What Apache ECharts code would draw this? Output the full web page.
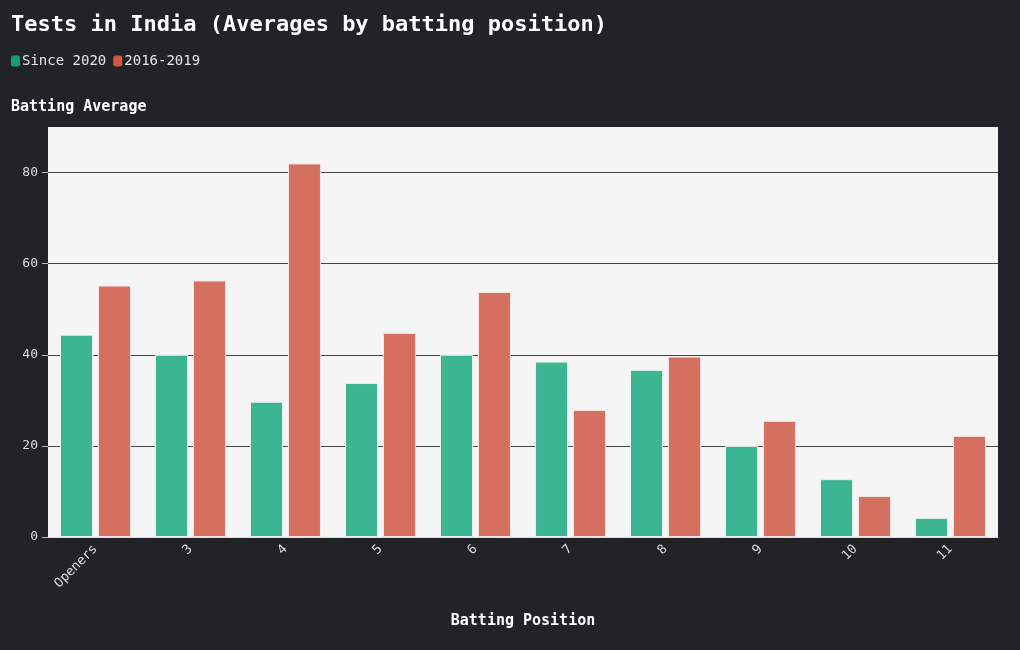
<!DOCTYPE html>
<html>
<head>
<meta charset="utf-8">
<script src="https://cdn.jsdelivr.net/npm/echarts@6/dist/echarts.min.js"></script>
<style>
  html, body { margin: 0; padding: 0; background: #222327; }
  #chart { width: 1020px; height: 650px; }
</style>
</head>
<body>
<div id="chart"></div>
<script>
// batting positions
const positions = ["Openers", "3", "4", "5", "6", "7", "8", "9", "10", "11"];
// averages since 2020
const since2020 = [44.4, 40.0, 29.7, 33.8, 40.0, 38.5, 36.7, 20.0, 12.7, 4.2];
// averages 2016-2019
const y2016to2019 = [55.2, 56.3, 82.0, 44.8, 53.8, 27.9, 39.6, 25.5, 9.0, 22.2];
// y tick values
const yTicks = [0, 20, 40, 60, 80];

const mono = "DejaVu Sans Mono";

const chart = echarts.init(document.getElementById("chart"));

const option = {
  backgroundColor: "#222327",
  textStyle: { fontFamily: mono },
  title: [
    {
      text: "Tests in India (Averages by batting position)",
      left: 6,
      top: 9,
      textStyle: { color: "#ffffff", fontSize: 22, fontWeight: "bold", fontFamily: mono }
    },
    {
      text: "Batting Average",
      left: 6,
      top: 95,
      textStyle: { color: "#ffffff", fontSize: 15, fontWeight: "bold", fontFamily: mono }
    }
  ],
  legend: {
    left: 6,
    top: 49,
    itemWidth: 9,
    itemHeight: 11,
    itemGap: 7,
    icon: "roundRect",
    textStyle: { color: "#e6e6e6", fontSize: 14, fontFamily: mono, padding: [0, 0, 0, -3] },
    data: [
      { name: "Since 2020", itemStyle: { color: "#17a06f", borderWidth: 0 } },
      { name: "2016-2019", itemStyle: { color: "#d6553f", borderWidth: 0 } }
    ]
  },
  grid: {
    left: 48,
    right: 22,
    top: 127,
    bottom: 113,
    show: true,
    backgroundColor: "#f5f5f5",
    borderWidth: 0
  },
  xAxis: {
    type: "category",
    data: positions,
    name: "Batting Position",
    nameLocation: "middle",
    nameGap: 77,
    nameTextStyle: { color: "#ffffff", fontSize: 15, fontWeight: "bold", fontFamily: mono },
    axisLine: { lineStyle: { color: "#dddddd" } },
    axisTick: { alignWithLabel: true, length: 6, lineStyle: { color: "#bbbbbb" } },
    axisLabel: { color: "#dddddd", fontSize: 13, rotate: 45, margin: 10, fontFamily: mono }
  },
  yAxis: {
    type: "value",
    min: 0,
    max: 90,
    interval: 20,
    axisLine: { show: false },
    axisTick: { show: true, length: 6, customValues: yTicks, lineStyle: { color: "#bbbbbb" } },
    axisLabel: { color: "#dddddd", fontSize: 13, margin: 10, fontFamily: mono, customValues: yTicks },
    splitLine: { lineStyle: { color: "#444444", width: 1 } }
  },
  series: [
    {
      name: "Since 2020",
      type: "bar",
      data: since2020,
      barWidth: 33,
      barGap: "15%",
      itemStyle: { color: "#3cb690", borderColor: "#e8f3ee", borderWidth: 1 }
    },
    {
      name: "2016-2019",
      type: "bar",
      data: y2016to2019,
      barWidth: 33,
      itemStyle: { color: "#d57060", borderColor: "#f3e6e3", borderWidth: 1 }
    }
  ]
};

chart.setOption(option);
</script>
</body>
</html>
